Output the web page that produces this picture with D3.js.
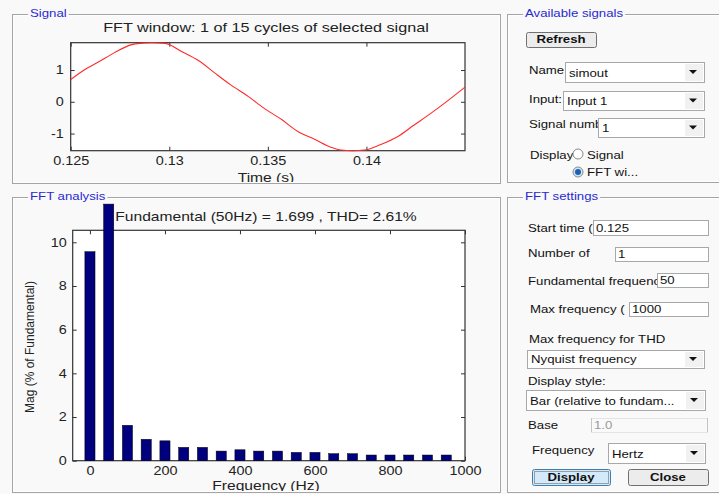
<!DOCTYPE html>
<html>
<head>
<meta charset="utf-8">
<script src="https://cdn.jsdelivr.net/npm/d3@7"></script>
<style>
  html, body { margin: 0; padding: 0; background: #f9f9f9; overflow: hidden; }
  svg { display: block; font-family: "Liberation Sans", Arial, sans-serif; }
</style>
</head>
<body>
<svg id="fig" width="719" height="494"></svg>
<script>
// ---- values ----
const freqs = [0, 50, 100, 150, 200, 250, 300, 350, 400, 450, 500, 550, 600, 650, 700, 750, 800, 850, 900, 950];
const mags = [9.57, 11.75, 1.62, 0.98, 0.91, 0.61, 0.61, 0.44, 0.50, 0.44, 0.44, 0.38, 0.38, 0.32, 0.32, 0.26, 0.26, 0.26, 0.26, 0.26];
const freqTicks = [0, 200, 400, 600, 800, 1000];
const magTicks = [0, 2, 4, 6, 8, 10];

const sigTime = [0.1250, 0.1257, 0.1264, 0.1272, 0.1281, 0.1285, 0.1291, 0.1298, 0.1306, 0.1315, 0.1323, 0.1331,
                 0.1340, 0.1348, 0.1357, 0.1365, 0.1374, 0.1382, 0.1387, 0.1393, 0.1399, 0.1407, 0.1416, 0.1424,
                 0.1433, 0.1441, 0.1450];
const sigValue = [0.70, 1.01, 1.25, 1.54, 1.80, 1.84, 1.86, 1.84, 1.59, 1.29, 0.91, 0.54,
                  0.17, -0.20, -0.56, -0.93, -1.19, -1.43, -1.52, -1.54, -1.52, -1.35, -1.09, -0.74,
                  -0.35, 0.02, 0.46];
const timeTicks = [0.125, 0.13, 0.135, 0.14];
const sigTicks = [-1, 0, 1];

const sigTitle = 'FFT window: 1 of 15 cycles of selected signal';
const fftTitle = 'Fundamental (50Hz) = 1.699 , THD= 2.61%';

// ---- page ----
const K = 1.2;          // glyphs in the picture are stretched sideways
const BG = '#f9f9f9';
const BLUE = '#2a2ad0';
const svg = d3.select('#fig');
svg.append('rect').attr('width', 719).attr('height', 494).attr('fill', BG);

function stretch(node) {
  const t = d3.select(node);
  if (t.classed('keep') || node.__done) return;
  node.__done = true;
  const w = node.getComputedTextLength() * K;
  const anchor = getComputedStyle(node).textAnchor;
  const x0 = +t.attr('x') || 0;
  const shift = anchor === 'end' ? w : anchor === 'middle' ? w / 2 : 0;
  t.attr('x', x0 - shift).attr('text-anchor', 'start')
    .attr('textLength', w).attr('lengthAdjust', 'spacingAndGlyphs');
  return w;
}

function label(g, x, y, s, opt = {}) {
  return g.append('text').attr('x', x).attr('y', y)
    .attr('font-size', opt.size || 11)
    .attr('font-weight', opt.bold ? 'bold' : null)
    .attr('fill', opt.color || '#111')
    .attr('text-anchor', opt.anchor || 'start')
    .text(s);
}

function panelFrame(x, y, w, h, title) {
  const g = svg.append('g');
  g.append('rect').attr('x', x + 0.5).attr('y', y + 0.5).attr('width', w).attr('height', h)
    .attr('fill', 'none').attr('stroke', '#a4a4a4');
  g.append('rect').attr('x', x + 1.5).attr('y', y + 1.5).attr('width', w - 2).attr('height', h - 2)
    .attr('fill', 'none').attr('stroke', '#ffffff');
  const bgr = g.append('rect').attr('fill', BG);
  const t = label(g, x + 18, y + 3, title, { color: BLUE, size: 11 });
  const tw = stretch(t.node());
  bgr.attr('x', x + 16).attr('y', y - 3).attr('width', tw + 4).attr('height', 7);
}

// ---- Signal plot ----
const sig = svg.append('g');
svg.append('clipPath').attr('id', 'clipSig').append('rect')
  .attr('x', 13).attr('y', 15).attr('width', 486).attr('height', 168);
sig.attr('clip-path', 'url(#clipSig)');

const xT = d3.scaleLinear().domain([0.125, 0.145]).range([70.7, 465]);
const yS = d3.scaleLinear().domain([-1.54, 1.86]).range([150.7, 42.7]);

sig.append('rect').attr('x', xT.range()[0]).attr('y', yS.range()[1])
  .attr('width', xT.range()[1] - xT.range()[0]).attr('height', yS.range()[0] - yS.range()[1])
  .attr('fill', '#fff');

function styleAxis(a) {
  a.select('.domain').remove();
  a.selectAll('.tick line').attr('stroke', '#333');
  a.selectAll('.tick text').attr('fill', '#222').attr('font-size', 12).attr('font-family', null);
}

const fmtT = d => (d < 0 ? '-' : '') + Math.abs(d);

sig.append('g').attr('transform', `translate(0,${yS.range()[0]})`)
  .call(d3.axisBottom(xT).tickValues(timeTicks).tickFormat(fmtT).tickSizeInner(-4).tickSizeOuter(0).tickPadding(6))
  .call(styleAxis);
sig.append('g').attr('transform', `translate(0,${yS.range()[1]})`)
  .call(d3.axisTop(xT).tickValues(timeTicks).tickFormat('').tickSizeInner(-4).tickSizeOuter(0))
  .call(styleAxis);
sig.append('g').attr('transform', `translate(${xT.range()[0]},0)`)
  .call(d3.axisLeft(yS).tickValues(sigTicks).tickFormat(fmtT).tickSizeInner(-4).tickSizeOuter(0).tickPadding(7))
  .call(styleAxis);
sig.append('g').attr('transform', `translate(${xT.range()[1]},0)`)
  .call(d3.axisRight(yS).tickValues(sigTicks).tickFormat('').tickSizeInner(-4).tickSizeOuter(0))
  .call(styleAxis);

sig.append('rect').attr('x', xT.range()[0]).attr('y', yS.range()[1])
  .attr('width', xT.range()[1] - xT.range()[0]).attr('height', yS.range()[0] - yS.range()[1])
  .attr('fill', 'none').attr('stroke', '#333').attr('stroke-width', 1.2);

const line = d3.line().x((d, i) => xT(sigTime[i])).y(d => yS(d)).curve(d3.curveMonotoneX);
sig.append('path').datum(sigValue).attr('d', line)
  .attr('fill', 'none').attr('stroke', '#ff2a2a').attr('stroke-width', 1.1);

label(sig, 266, 31.5, sigTitle, { size: 13.5, color: '#222', anchor: 'middle' });
label(sig, 266, 182, 'Time (s)', { size: 13, color: '#222', anchor: 'middle' });

// ---- FFT analysis plot ----
const fft = svg.append('g');
svg.append('clipPath').attr('id', 'clipFft').append('rect')
  .attr('x', 13).attr('y', 198).attr('width', 486).attr('height', 293);
fft.attr('clip-path', 'url(#clipFft)');

const xF = d3.scaleLinear().domain([-46, 1000]).range([72.7, 465]);
const yM = d3.scaleLinear().domain([0, 10.55]).range([460.7, 230.3]);
const halfBar = 13.5;

fft.append('rect').attr('x', xF.range()[0]).attr('y', yM.range()[1])
  .attr('width', xF.range()[1] - xF.range()[0]).attr('height', yM.range()[0] - yM.range()[1])
  .attr('fill', '#fff');

label(fft, 266, 220.7, fftTitle, { size: 13, color: '#222', anchor: 'middle' });

fft.append('g').attr('transform', `translate(0,${yM.range()[0]})`)
  .call(d3.axisBottom(xF).tickValues(freqTicks).tickFormat(d3.format('d')).tickSizeInner(-4).tickSizeOuter(0).tickPadding(6))
  .call(styleAxis);
fft.append('g').attr('transform', `translate(0,${yM.range()[1]})`)
  .call(d3.axisTop(xF).tickValues(freqTicks).tickFormat('').tickSizeInner(-4).tickSizeOuter(0))
  .call(styleAxis);
fft.append('g').attr('transform', `translate(${xF.range()[0]},0)`)
  .call(d3.axisLeft(yM).tickValues(magTicks).tickFormat(d3.format('d')).tickSizeInner(-4).tickSizeOuter(0).tickPadding(6))
  .call(styleAxis);
fft.append('g').attr('transform', `translate(${xF.range()[1]},0)`)
  .call(d3.axisRight(yM).tickValues(magTicks).tickFormat('').tickSizeInner(-4).tickSizeOuter(0))
  .call(styleAxis);

fft.append('rect').attr('x', xF.range()[0]).attr('y', yM.range()[1])
  .attr('width', xF.range()[1] - xF.range()[0]).attr('height', yM.range()[0] - yM.range()[1])
  .attr('fill', 'none').attr('stroke', '#333').attr('stroke-width', 1.2);

fft.selectAll('.bar').data(freqs).enter().append('rect')
  .attr('class', 'bar')
  .attr('x', d => xF(d - halfBar))
  .attr('width', d => xF(d + halfBar) - xF(d - halfBar))
  .attr('y', (d, i) => yM(mags[i]))
  .attr('height', (d, i) => yM(0) - yM(mags[i]))
  .attr('fill', '#00007e').attr('stroke', '#000').attr('stroke-width', 0.5);

label(fft, 266, 490, 'Frequency (Hz)', { size: 13, color: '#222', anchor: 'middle' });
label(fft, 0, 0, 'Mag (% of Fundamental)', { size: 12, color: '#222', anchor: 'middle' })
  .classed('keep', true).attr('transform', 'translate(34,347) rotate(-90)');

// ---- right side controls ----
const ui = svg.append('g');

function editBox(x, y, w, h, s, disabled) {
  ui.append('rect').attr('x', x + 0.5).attr('y', y + 0.5).attr('width', w).attr('height', h)
    .attr('fill', disabled ? BG : '#fff').attr('stroke', disabled ? '#e4e4e4' : '#a8a8a8');
  if (disabled) {
    ui.append('line').attr('x1', x + 0.5).attr('x2', x + 0.5).attr('y1', y).attr('y2', y + h).attr('stroke', '#c4c4c4');
    ui.append('line').attr('x1', x + w + 0.5).attr('x2', x + w + 0.5).attr('y1', y).attr('y2', y + h).attr('stroke', '#c4c4c4');
  }
  label(ui, x + 3, y + h - 3, s, { color: disabled ? '#9a9a9a' : '#111' });
}

function popup(x, y, w, h, s) {
  ui.append('rect').attr('x', x + 0.5).attr('y', y + 0.5).attr('width', w).attr('height', h)
    .attr('fill', '#fff').attr('stroke', '#a8a8a8');
  ui.append('rect').attr('x', x + w - 19).attr('y', y + 2).attr('width', 18).attr('height', h - 3)
    .attr('fill', '#f1f1f1');
  ui.append('path').attr('transform', `translate(${x + w - 11},${y + h / 2})`)
    .attr('d', 'M-4,-2L4,-2L0,2Z').attr('fill', '#111');
  label(ui, x + 4, y + h - 5, s);
}

function button(x, y, w, h, s, focused) {
  ui.append('rect').attr('x', x + 0.5).attr('y', y + 0.5).attr('width', w).attr('height', h).attr('rx', 2)
    .attr('fill', focused ? '#d4eafa' : '#ececec').attr('stroke', focused ? '#3c7fb1' : '#707070');
  if (focused) {
    ui.append('rect').attr('x', x + 2.5).attr('y', y + 2.5).attr('width', w - 4).attr('height', h - 4)
      .attr('fill', 'none').attr('stroke', '#555').attr('stroke-dasharray', '1,1');
  }
  label(ui, x + w / 2, y + h - 4.5, s, { bold: true, anchor: 'middle' });
}

function radio(cx, cy, on) {
  ui.append('circle').attr('cx', cx).attr('cy', cy).attr('r', 5)
    .attr('fill', on ? '#cfe6f8' : '#fff').attr('stroke', '#8a8a8a');
  if (on) ui.append('circle').attr('cx', cx).attr('cy', cy).attr('r', 3).attr('fill', '#1c62b0');
}

// Available signals
button(526, 32, 70, 15, 'Refresh', false);
label(ui, 529, 74, 'Name:');
popup(565, 62, 139, 20, 'simout');
label(ui, 529, 103, 'Input:');
popup(563, 91, 141, 19, 'Input 1');
label(ui, 529, 128, 'Signal numb');
popup(598, 118, 106, 19, '1');
label(ui, 530, 159, 'Display');
radio(578, 154, false);
label(ui, 587, 159, 'Signal');
radio(578, 172, true);
label(ui, 587, 176, 'FFT wi...');

// FFT settings
label(ui, 528, 231.5, 'Start time (');
editBox(593, 220, 115, 15, '0.125');
label(ui, 528, 257, 'Number of');
editBox(615, 247, 93, 14, '1');
label(ui, 528, 285, 'Fundamental frequenc');
editBox(657, 273, 51, 14, '50');
label(ui, 530, 313, 'Max frequency (');
editBox(629, 302, 79, 14, '1000');
label(ui, 529, 342.5, 'Max frequency for THD');
popup(527, 350, 177, 18, 'Nyquist frequency');
label(ui, 528, 385, 'Display style:');
popup(526, 390, 179, 20, 'Bar (relative to fundam...');
label(ui, 528, 429, 'Base');
editBox(591, 418, 116, 14, '1.0', true);
label(ui, 532, 454, 'Frequency');
popup(608, 443, 97, 20, 'Hertz');
button(532, 469, 78, 16, 'Display', true);
button(628, 469, 80, 16, 'Close', false);

// ---- frames on top ----
panelFrame(12, 14, 488, 169, 'Signal');
panelFrame(12, 197, 488, 295, 'FFT analysis');
panelFrame(507, 14, 240, 168, 'Available signals');
panelFrame(507, 197, 240, 295, 'FFT settings');

svg.selectAll('text').each(function () { stretch(this); });
</script>
</body>
</html>
